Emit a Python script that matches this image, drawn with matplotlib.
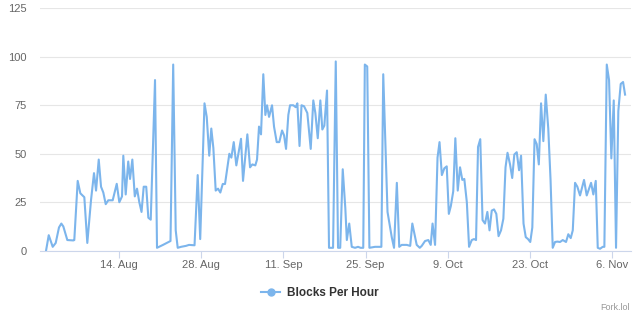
import numpy as np
import pandas as pd
import matplotlib
matplotlib.use("Agg")
import matplotlib.pyplot as plt
from matplotlib.lines import Line2D

plt.rcParams['font.family'] = ['Liberation Sans', 'DejaVu Sans']

# days since 1 Aug 2017 and blocks per hour
days = [0.50, 0.96, 1.64, 2.15, 2.71, 3.11, 3.45, 4.13, 5.15, 5.32,
        5.90, 6.35, 7.03, 7.54, 8.17, 8.68, 9.03, 9.49, 9.88, 10.27,
        10.68, 11.12, 11.87, 12.56, 13.00, 13.46, 13.68, 14.09, 14.52, 14.83,
        15.22, 15.64, 16.02, 16.41, 16.79, 17.16, 17.59, 17.95, 18.36, 19.09,
        19.43, 20.45, 21.73, 22.19, 22.62, 22.96, 23.53, 24.38, 24.89, 25.83,
        26.37, 26.80, 27.53, 27.91, 28.34, 28.69, 29.04, 29.44, 29.84, 30.23,
        30.64, 31.03, 31.77, 32.11, 32.52, 32.96, 33.76, 34.10, 34.84, 35.30,
        35.69, 36.20, 36.49, 36.83, 37.17, 37.56, 37.91, 38.20, 38.54, 39.05,
        39.39, 39.85, 40.29, 40.76, 41.10, 41.44, 41.83, 42.12, 42.68, 43.09,
        43.37, 43.74, 44.08, 44.51, 45.07, 45.65, 46.09, 46.44, 46.85, 47.29,
        47.63, 47.97, 48.43, 48.77, 49.46, 49.92, 50.31, 50.68, 51.11, 51.55,
        51.81, 52.22, 52.65, 53.21, 53.72, 54.15, 54.61, 54.88, 55.29, 55.66,
        56.62, 57.70, 58.02, 58.75, 59.47, 59.86, 60.34, 60.75, 61.17, 62.03,
        62.62, 62.98, 63.73, 64.25, 64.59, 65.15, 65.71, 66.12, 66.43, 66.86,
        67.28, 67.62, 68.02, 68.44, 68.85, 69.21, 69.55, 69.96, 70.32, 70.73,
        71.12, 71.51, 71.85, 72.28, 72.66, 73.12, 73.51, 73.85, 74.19, 74.57,
        74.96, 75.38, 75.78, 76.15, 76.53, 76.92, 77.31, 77.69, 78.11, 78.51,
        78.88, 79.22, 79.65, 80.02, 80.38, 80.79, 81.19, 81.53, 81.95, 82.33,
        82.72, 83.10, 83.45, 83.83, 84.20, 84.56, 84.94, 85.33, 85.74, 86.17,
        86.56, 86.93, 87.33, 87.72, 88.18, 88.64, 89.20, 89.59, 90.00, 90.35,
        90.74, 91.13, 91.59, 91.98, 92.27, 92.73, 93.13, 93.47, 93.86, 94.27,
        94.61, 95.00, 95.46, 95.74, 96.15, 96.54, 96.93, 97.34, 97.73, 98.12,
        98.53, 98.93, 99.27]

blocks = [0, 8, 2, 4, 12, 14, 12.5, 5.5, 5.3, 5.5,
          36, 29.6, 27.6, 4, 26, 40, 31, 47, 33, 30,
          24, 26, 26, 34.5, 25, 28, 49, 29, 46, 37,
          47, 28, 32, 25, 20, 33, 33, 17, 16, 88,
          1.5, 3, 5, 96, 10.5, 1.5, 2, 2.5, 3, 2.8,
          39, 6, 76, 69, 49, 63, 53, 31, 32, 30,
          34.4, 34.4, 50, 48, 56, 44, 57.7, 36, 60, 43,
          44.5, 44, 47, 64, 60, 91, 70, 75, 69, 75,
          64, 56, 56, 62, 59.5, 52.5, 70, 75, 75, 74,
          76, 54, 75, 74.5, 71, 52.5, 77.5, 71, 58, 77.5,
          62.5, 64.5, 82.6, 1.5, 1.5, 97.6, 1.5, 1.5, 42, 22,
          5.5, 14, 2, 1.5, 2, 1.5, 1.5, 96, 95, 1.5,
          2, 2, 91, 20, 7, 1.5, 35, 2, 3, 3,
          2.5, 14, 3, 1.5, 2.5, 5, 5.5, 3, 14, 3,
          48, 56, 39, 42.5, 43.5, 19, 23, 30.6, 58, 31,
          43, 36.5, 37, 25, 2, 5.5, 6, 5.5, 53.5, 57.5,
          15.8, 14, 20, 10.5, 20.7, 21.3, 19, 7.5, 10.5, 16.5,
          43, 50.5, 44.5, 37.5, 49.6, 50.8, 41.5, 49, 14, 7,
          6, 4.5, 12, 57.5, 55, 44.5, 76, 56.5, 80.5, 63,
          36.5, 1.5, 4.5, 4.7, 4.5, 5.5, 4.5, 8.5, 6.5, 10.5,
          35, 33, 28.5, 33, 36.5, 28.5, 32, 35, 29, 36,
          1.5, 1, 2, 2, 96, 88, 47.6, 77.5, 1.5, 72,
          86, 87, 80.5]

start = pd.Timestamp("2017-08-01")
tick_dates = ["2017-08-14", "2017-08-28", "2017-09-11", "2017-09-25",
              "2017-10-09", "2017-10-23", "2017-11-06"]
y_ticks = [0, 25, 50, 75, 100, 125]
series_name = "Blocks Per Hour"

line_col = "#7cb5ec"
grid_col = "#e6e6e6"
axis_col = "#ccd6eb"
label_col = "#666666"

times = start + pd.to_timedelta(np.array(days), unit="D")

fig = plt.figure(figsize=(6.4, 3.22), dpi=100)
ax = fig.add_axes([0.0625, 0.2214, 0.9235, 0.7528])

ax.plot(times, blocks, color=line_col, lw=1.5, solid_joinstyle="round")

ax.set_ylim(0, 125)
ax.set_xlim(start + pd.Timedelta(days=-0.53), start + pd.Timedelta(days=100.29))

ax.set_yticks(y_ticks)
ax.set_yticklabels([str(v) for v in y_ticks])
ax.yaxis.grid(True, color=grid_col, lw=0.8)
ax.set_axisbelow(True)

tds = pd.to_datetime(tick_dates)
ax.set_xticks(tds)
ax.set_xticklabels([f"{d.day}. {d.strftime('%b')}" for d in tds])

for s in ["top", "right", "left"]:
    ax.spines[s].set_visible(False)
ax.spines["bottom"].set_color(axis_col)
ax.spines["bottom"].set_linewidth(0.8)

ax.tick_params(axis="y", length=0, pad=9.5, labelsize=8, labelcolor=label_col)
ax.tick_params(axis="x", length=5, width=0.8, color=axis_col, pad=2,
               labelsize=8, labelcolor=label_col)

# legend below chart
handle = Line2D([], [], color=line_col, lw=1.5, marker="o", markersize=5)
leg = fig.legend([handle], [series_name], loc="center", bbox_to_anchor=(0.5, 0.09),
                 frameon=False, handlelength=1.4, handletextpad=0.5)
for t in leg.get_texts():
    t.set_fontweight("bold")
    t.set_color("#333333")
    t.set_fontsize(8.5)

fig.text(0.984, 0.045, "Fork.lol", ha="right", va="center", fontsize=6.5, color="#999999")

fig.savefig("out.png", dpi=100)
